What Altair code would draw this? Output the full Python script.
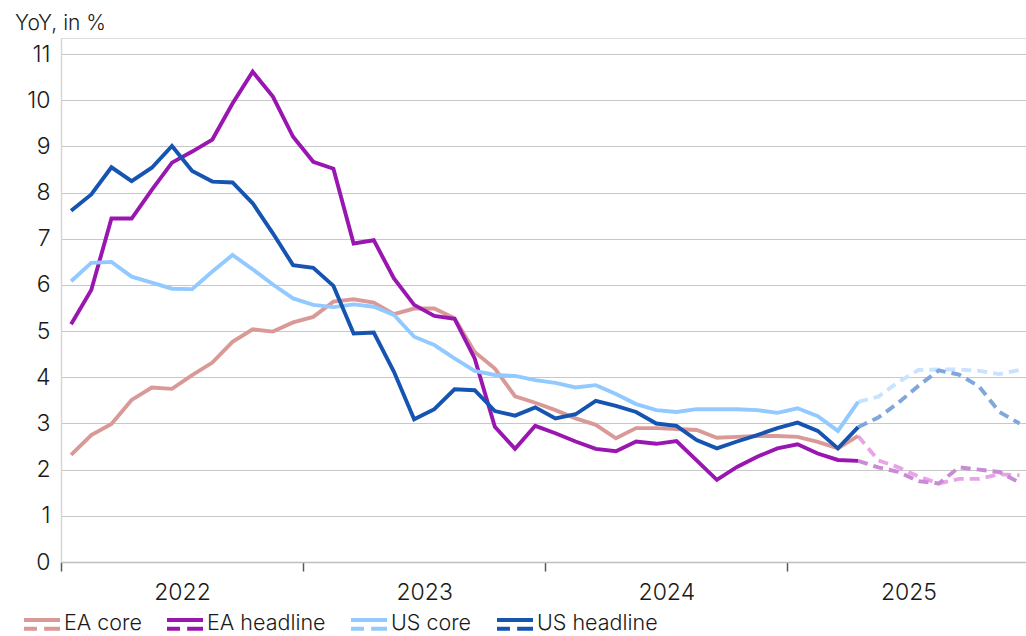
import altair as alt
import pandas as pd

series_names = ["EA core", "EA headline", "US core", "US headline"]
line_colors = ["#D99A97", "#9A16B0", "#92CAFF", "#1654B2"]
fc_colors = ["#E9A4E7", "#C98AD6", "#C8E3FF", "#7FA7DB"]

# monthly values, Jan 2022 (index 0) .. Apr 2025 (index 39)
ea_core = [2.32, 2.75, 2.99, 3.51, 3.78, 3.75, 4.05, 4.32, 4.77, 5.04, 4.99, 5.19,
           5.31, 5.64, 5.69, 5.62, 5.37, 5.49, 5.49, 5.28, 4.55, 4.19, 3.59, 3.45,
           3.29, 3.11, 2.97, 2.68, 2.90, 2.90, 2.88, 2.86, 2.69, 2.71, 2.73, 2.73,
           2.71, 2.60, 2.46, 2.73]
ea_headline = [5.15, 5.89, 7.44, 7.44, 8.06, 8.65, 8.89, 9.15, 9.93, 10.62, 10.08, 9.21,
               8.67, 8.52, 6.90, 6.97, 6.14, 5.57, 5.33, 5.27, 4.41, 2.93, 2.45, 2.95,
               2.79, 2.61, 2.45, 2.40, 2.61, 2.56, 2.62, 2.20, 1.78, 2.06, 2.28, 2.46,
               2.55, 2.35, 2.21, 2.19]
us_core = [6.08, 6.48, 6.50, 6.18, 6.05, 5.92, 5.91, 6.29, 6.65, 6.34, 6.01, 5.71,
           5.57, 5.52, 5.58, 5.53, 5.35, 4.88, 4.70, 4.41, 4.14, 4.05, 4.03, 3.94,
           3.88, 3.78, 3.83, 3.64, 3.42, 3.29, 3.25, 3.31, 3.31, 3.31, 3.29, 3.23,
           3.33, 3.16, 2.84, 3.47]
us_headline = [7.61, 7.96, 8.55, 8.25, 8.54, 9.01, 8.47, 8.24, 8.22, 7.77, 7.12, 6.43,
               6.37, 5.98, 4.95, 4.97, 4.12, 3.09, 3.31, 3.74, 3.72, 3.27, 3.17, 3.35,
               3.11, 3.20, 3.49, 3.38, 3.25, 3.00, 2.95, 2.64, 2.46, 2.61, 2.75, 2.90,
               3.02, 2.84, 2.46, 2.92]

# forecasts, Apr 2025 (index 39) .. Dec 2025 (index 47)
fc_start = 39
ea_core_fc = [2.73, 2.20, 2.05, 1.85, 1.70, 1.80, 1.80, 1.90, 1.88]
ea_headline_fc = [2.19, 2.05, 1.95, 1.75, 1.70, 2.05, 2.00, 1.95, 1.72]
us_core_fc = [3.47, 3.58, 3.90, 4.16, 4.17, 4.17, 4.14, 4.07, 4.16]
us_headline_fc = [2.92, 3.13, 3.45, 3.82, 4.15, 4.06, 3.80, 3.25, 3.00]

year_ticks = [0, 12, 24, 36]
y_ticks = list(range(0, 12))

actual = {"EA core": ea_core, "EA headline": ea_headline,
          "US core": us_core, "US headline": us_headline}
forecast = {"EA core": ea_core_fc, "EA headline": ea_headline_fc,
            "US core": us_core_fc, "US headline": us_headline_fc}

rows = []
for name, vals in actual.items():
    for i, v in enumerate(vals):
        rows.append({"series": name, "x": i + 0.5, "value": v})
df_act = pd.DataFrame(rows)
rows = []
for name, vals in forecast.items():
    for i, v in enumerate(vals):
        rows.append({"series": name, "x": fc_start + i + 0.5, "value": v})
df_fc = pd.DataFrame(rows)

FONT = "Inter"
TXT = "#1a1a1a"

x_enc = alt.X("x:Q", title=None,
              scale=alt.Scale(domain=[0, 47.82], nice=False, zero=False),
              axis=alt.Axis(values=year_ticks,
                            labelExpr="'' + (2022 + round(datum.value / 12))",
                            labelOffset=121, labelFlush=False, labelOverlap=False,
                            tickSize=9, tickColor="#595959", tickWidth=1.5,
                            domainColor="#BFBFBF", domainWidth=1.5,
                            labelFontSize=23, labelFont=FONT, labelColor=TXT,
                            labelFontWeight=300,
                            labelPadding=10, grid=False))
y_enc = alt.Y("value:Q", title=None,
              scale=alt.Scale(domain=[0, 11.35], nice=False),
              axis=alt.Axis(values=y_ticks, ticks=False, labelPadding=11,
                            labelFontSize=23, labelFont=FONT, labelColor=TXT,
                            labelFontWeight=300,
                            domainColor="#D6D6D6", domainWidth=1.5,
                            gridColor="#C8C8C8", gridWidth=1.2))

legend_symbol = "M-1,-0.24L1,-0.24M-1,0.24L-0.28,0.24M0.12,0.24L1,0.24"

act = alt.Chart(df_act).mark_line(strokeWidth=3.9, strokeCap="butt").encode(
    x=x_enc, y=y_enc,
    color=alt.Color("series:N",
                    scale=alt.Scale(domain=series_names, range=line_colors),
                    legend=alt.Legend(title=None, orient="none", direction="horizontal",
                                      legendX=-39, legendY=566,
                                      symbolType=legend_symbol, symbolSize=1296,
                                      symbolStrokeWidth=4,
                                      labelFontSize=21.5, labelFont=FONT,
                                      labelFontWeight=300, labelColor=TXT,
                                      labelOffset=2, columnPadding=17)),
)

fc = alt.Chart(df_fc).mark_line(strokeWidth=3.9, strokeDash=[10, 6], strokeCap="butt").encode(
    x="x:Q", y="value:Q",
    color=alt.Color("series:N",
                    scale=alt.Scale(domain=series_names, range=fc_colors),
                    legend=None),
)

chart = alt.layer(fc, act).resolve_scale(color="independent").properties(
    width=965, height=524,
    autosize="none",
    padding={"left": 61, "top": 38, "right": 0, "bottom": 74},
    title=alt.Title("YoY, in %", anchor="start", frame="group", dx=-46,
                    offset=-13, baseline="alphabetic",
                    fontSize=21, font=FONT, fontWeight=300, color=TXT),
).configure_view(stroke=None).configure(background="white")

chart.save("out.html", embed_options={"renderer": "svg", "actions": False})
